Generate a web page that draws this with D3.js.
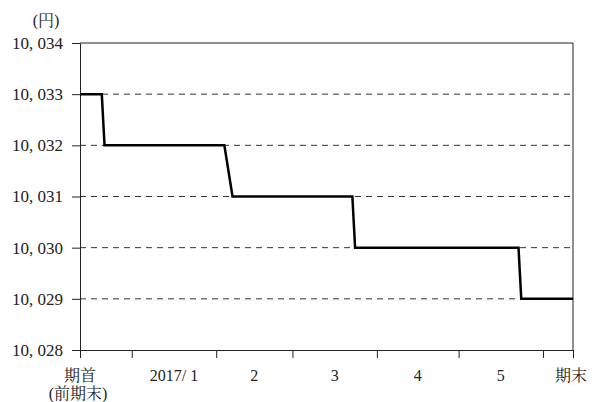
<!DOCTYPE html>
<html>
<head>
<meta charset="utf-8">
<script src="https://cdn.jsdelivr.net/npm/d3@7"></script>
<style>
  body { margin: 0; background: #fff; }
</style>
</head>
<body>
<div id="chart"></div>
<script>
// price steps (date, yen)
var dates = ["2016-12-13", "2016-12-21", "2016-12-22", "2017-02-04", "2017-02-07",
             "2017-03-23", "2017-03-24", "2017-05-23", "2017-05-24", "2017-06-12"];
var prices = [10033, 10033, 10032, 10032, 10031, 10031, 10030, 10030, 10029, 10029];

// x axis ticks (month boundaries) and labels between them
var tickDates = ["2016-12-13", "2017-01-01", "2017-02-01", "2017-03-01",
                 "2017-04-01", "2017-05-01", "2017-06-01", "2017-06-12"];
var monthLabels = ["2017/ 1", "2", "3", "4", "5"];
var yTicks = [10028, 10029, 10030, 10031, 10032, 10033, 10034];

var width = 594,
    height = 402;
var margin = {top: 43, right: 21, bottom: 52, left: 80};
var w = width - margin.left - margin.right,
    h = height - margin.top - margin.bottom;
var font = "'Liberation Serif', 'Noto Serif CJK JP', serif";

var parse = d3.timeParse("%Y-%m-%d");
var data = dates.map(function(d, i) { return {date: parse(d), value: prices[i]}; });
var ticks = tickDates.map(parse);

var x = d3.scaleTime()
    .domain([ticks[0], ticks[ticks.length - 1]])
    .range([0, w]);
var y = d3.scaleLinear()
    .domain([10028, 10034])
    .range([h, 0]);

var svg = d3.select("#chart").append("svg")
    .attr("width", width)
    .attr("height", height)
  .append("g")
    .attr("transform", "translate(" + margin.left + "," + margin.top + ")");

// dashed grid
svg.selectAll(".grid")
  .data(yTicks.slice(1, -1))
  .enter().append("line")
    .attr("x1", 0)
    .attr("x2", w)
    .attr("y1", function(d) { return y(d); })
    .attr("y2", function(d) { return y(d); })
    .attr("stroke", "#333")
    .attr("stroke-dasharray", "6,5")
    .attr("stroke-width", 1);

// top and right frame
svg.append("line")
    .attr("x1", 0).attr("x2", w)
    .attr("y1", y(10034)).attr("y2", y(10034))
    .attr("stroke", "#222");
svg.append("line")
    .attr("x1", w).attr("x2", w)
    .attr("y1", 0).attr("y2", h)
    .attr("stroke", "#222");

var fmt = d3.format(",");
var yAxis = svg.append("g")
    .call(d3.axisLeft(y)
      .tickValues(yTicks)
      .tickSize(8)
      .tickSizeOuter(0)
      .tickPadding(9)
      .tickFormat(function(d) { return fmt(d).replace(",", ", "); }));
yAxis.selectAll("line, path").attr("stroke", "#222");

var xAxis = svg.append("g")
    .attr("transform", "translate(0," + h + ")")
    .call(d3.axisBottom(x)
      .tickValues(ticks)
      .tickSize(8)
      .tickSizeOuter(0)
      .tickFormat(""));
xAxis.selectAll("line, path").attr("stroke", "#222");

var labels = svg.append("g")
    .attr("text-anchor", "middle");

monthLabels.forEach(function(t, i) {
  var mid = (x(ticks[i + 1]) + x(ticks[i + 2])) / 2;
  labels.append("text")
      .attr("x", mid)
      .attr("y", h + 31)
      .text(t);
});
labels.append("text")
    .attr("x", x(ticks[0]))
    .attr("y", h + 31)
    .text("期首");
labels.append("text")
    .attr("x", x(ticks[0]) - 2)
    .attr("y", h + 49)
    .text("(前期末)");
labels.append("text")
    .attr("x", x(ticks[ticks.length - 1]) - 2)
    .attr("y", h + 31)
    .text("期末");

svg.append("text")
    .attr("x", -34)
    .attr("y", -17)
    .attr("text-anchor", "middle")
    .text("(円)");

svg.selectAll("g > text")
    .style("font-family", font)
    .style("font-size", "16px")
    .attr("fill", "#222");
yAxis.selectAll("text")
    .style("font-family", font)
    .style("font-size", "17px")
    .attr("fill", "#222");

var line = d3.line()
    .x(function(d) { return x(d.date); })
    .y(function(d) { return y(d.value); });

svg.append("path")
    .attr("d", line(data))
    .attr("stroke", "#000")
    .attr("stroke-width", 2.5)
    .attr("fill", "none");
</script>
</body>
</html>
